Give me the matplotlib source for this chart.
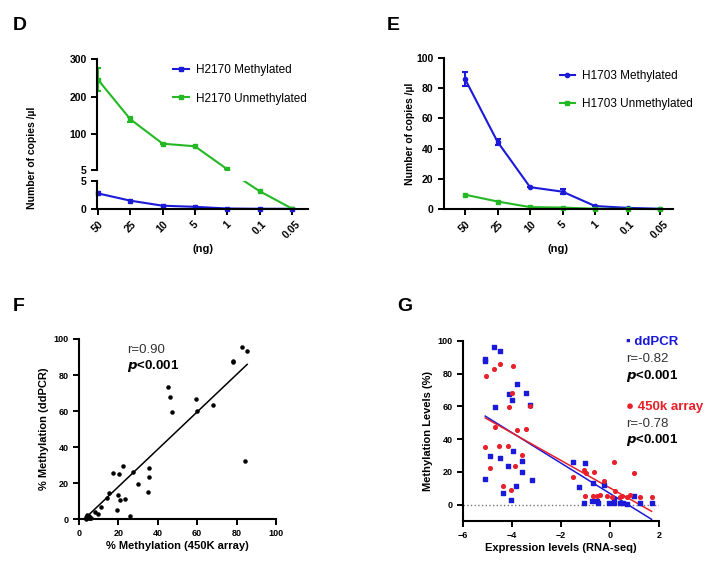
import numpy as np
import matplotlib
matplotlib.use('Agg')
import matplotlib.pyplot as plt

plt.rcParams['font.family'] = ['Liberation Sans', 'DejaVu Sans']

# ---- data ----
ng_labels = ['50', '25', '10', '5', '1', '0.1', '0.05']

d_meth = [2.8, 1.5, 0.6, 0.4, 0.1, 0.05, 0.05]
d_unmeth = [245, 140, 75, 68, 7, 3.2, 0.1]
d_unmeth_err = [30, 7, 0, 0, 0, 0, 0]

e_meth = [86, 44.5, 14.5, 11.5, 2, 0.8, 0.2]
e_meth_err = [4.5, 1.8, 0, 1.6, 0, 0, 0]
e_unmeth = [9.5, 5, 1.3, 1.0, 0.2, 0.1, 0.0]

f_x = [82.6, 85.4, 78.3, 78.3, 45.1, 46.2, 47.0, 59.5, 60.1, 68.0, 84.3,
       17.1, 22.2, 20.3, 27.2, 35.5, 35.5, 30.1, 35.0, 15.1, 14.2, 19.8,
       23.2, 20.8, 11.2, 19.3, 8.0, 9.5, 26.0,
       3.5, 4.0, 4.5, 5.0, 5.5, 4.2, 6.0, 3.8, 4.8, 5.3]
f_y = [95.4, 93.3, 87.8, 87.2, 73.2, 67.9, 59.4, 66.7, 60.2, 63.5, 32.2,
       25.7, 29.3, 24.8, 26.3, 28.5, 23.3, 19.4, 15.2, 14.6, 11.7, 13.3,
       11.1, 10.4, 6.8, 5.0, 3.9, 2.9, 1.7,
       1.0, 0.5, 1.5, 0.8, 0.3, 2.0, 0.5, 0.2, 1.2, 1.8]
f_fit = (1.039, -2.84)

g_dd_x = [-4.73, -4.49, -5.09, -5.09, -3.80, -3.44, -4.14, -4.00, -4.68, -3.28,
          -4.89, -4.50, -3.96, -3.59, -4.16, -3.59, -5.09, -3.17, -3.85, -4.38, -4.04,
          -1.50, -1.01, -1.25, -0.68, -0.23, 0.18, 0.98,
          -1.06, -0.75, -0.54, -0.48, -0.05, 0.18, 0.41, 0.54, 0.68, 1.22, 1.70]
g_dd_y = [96.2, 94.1, 88.8, 87.8, 73.8, 68.5, 67.5, 64.2, 59.6, 60.8,
          29.5, 28.7, 32.5, 26.8, 23.8, 19.7, 15.4, 15.0, 11.4, 7.3, 2.8,
          26.2, 25.2, 10.6, 13.4, 11.8, 3.7, 5.3,
          1.0, 2.0, 2.4, 1.0, 1.0, 1.0, 1.0, 1.0, 0.6, 1.0, 1.0]
g_450_x = [-5.07, -4.75, -4.49, -3.97, -4.00, -4.12, -3.28, -4.68, -3.80, -3.43,
           -5.09, -4.52, -4.15, -3.59, -4.89, -3.86, -4.38, -4.04,
           -1.50, -1.06, -0.98, -0.67, -0.23, 0.15, 0.98, 0.20,
           -1.02, -0.68, -0.54, -0.41, -0.14, 0.07, 0.41, 0.50, 0.68, 0.82, 1.22, 1.70]
g_450_y = [78.7, 83.1, 86.0, 84.8, 68.5, 59.8, 60.3, 47.2, 45.3, 46.3,
           35.2, 35.8, 35.8, 30.3, 22.1, 23.4, 11.4, 9.1,
           17.1, 20.9, 19.3, 19.9, 14.2, 26.2, 19.3, 8.5,
           5.1, 5.1, 5.5, 6.1, 5.0, 4.5, 4.5, 5.5, 4.5, 6.1, 4.8, 4.8]
g_dd_fit = (-9.29, 6.8)
g_450_fit = (-8.4, 10.2)

blue = '#1a1ad8'
green = '#24b824'
red = '#e8202a'
tick_kw = dict(labelsize=7.5, width=1.4, length=4)


def style(ax):
    for s in ['top', 'right']:
        ax.spines[s].set_visible(False)
    for s in ['left', 'bottom']:
        ax.spines[s].set_linewidth(1.5)
    ax.tick_params(**tick_kw)
    for lab in ax.get_xticklabels() + ax.get_yticklabels():
        lab.set_fontweight('bold')


fig = plt.figure(figsize=(7.16, 5.62), dpi=100)
x = np.arange(len(ng_labels))

# ---- D (broken axis) ----
axDu = fig.add_axes([0.1355, 0.6975, 0.2947, 0.1975])
axDl = fig.add_axes([0.1355, 0.628, 0.2947, 0.0498])
# upper part: only the points at or above the break
up = [i for i, v in enumerate(d_unmeth) if v >= 5]
lm, = axDu.plot(x[:0], [], color=blue, lw=1.5, marker='s', ms=2.5, label='H2170 Methylated')
lu, = axDu.plot(x[up], np.array(d_unmeth)[up], color=green, lw=1.5, marker='s', ms=2.5,
                label='H2170 Unmethylated')
axDu.errorbar(x[up], np.array(d_unmeth)[up], yerr=np.array(d_unmeth_err)[up], fmt='none',
              ecolor=green, capsize=2.5, elinewidth=1.5, capthick=1.5)
axDl.plot(x, d_meth, color=blue, lw=1.5, marker='s', ms=2.5, clip_on=False)
axDl.plot(x, d_unmeth, color=green, lw=1.5, marker='s', ms=2.5)
for ax in (axDu, axDl):
    ax.set_xlim(-0.03, 6.5)
axDu.set_ylim(5, 300)
axDu.set_yticks([5, 100, 200, 300])
axDl.set_ylim(0, 5)
axDl.set_yticks([0, 5])
axDl.set_xticks(x)
axDl.set_xticklabels(ng_labels, rotation=45)
axDl.set_xlabel('(ng)', fontsize=8, fontweight='bold', labelpad=2)
style(axDu)
style(axDl)
axDu.spines['bottom'].set_visible(False)
axDu.set_xticks([])
axDu.legend(handles=[lm, lu], loc='upper left', bbox_to_anchor=(0.227, 0.905),
            bbox_transform=fig.transFigure, frameon=False, fontsize=8.5,
            handlelength=1.3, handletextpad=0.6, labelspacing=1.4)
fig.text(0.045, 0.72, 'Number of copies /µl', rotation=90, fontsize=7.5, fontweight='bold',
         ha='center', va='center')
fig.text(0.018, 0.955, 'D', fontsize=14, fontweight='bold', va='center')

# ---- E ----
axE = fig.add_axes([0.620, 0.628, 0.320, 0.269])
em, = axE.plot(x, e_meth, color=blue, lw=1.5, marker='o', ms=3, label='H1703 Methylated', clip_on=False)
axE.errorbar(x, e_meth, yerr=e_meth_err, fmt='none', ecolor=blue, capsize=2.5,
             elinewidth=1.5, capthick=1.5, clip_on=False)
eu, = axE.plot(x, e_unmeth, color=green, lw=1.5, marker='s', ms=2.5, label='H1703 Unmethylated',
               clip_on=False)
axE.set_xlim(-0.65, 6.4)
axE.set_ylim(0, 100)
axE.set_yticks([0, 20, 40, 60, 80, 100])
axE.set_xticks(x)
axE.set_xticklabels(ng_labels, rotation=45)
axE.set_xlabel('(ng)', fontsize=8, fontweight='bold', labelpad=2)
axE.set_ylabel('Number of copies /µl', fontsize=7.5, fontweight='bold', labelpad=1)
style(axE)
axE.legend(handles=[em, eu], loc='upper left', bbox_to_anchor=(0.767, 0.895),
           bbox_transform=fig.transFigure, frameon=False, fontsize=8.5,
           handlelength=1.3, handletextpad=0.6, labelspacing=1.4)
fig.text(0.54, 0.955, 'E', fontsize=14, fontweight='bold', va='center')

# ---- F ----
axF = fig.add_axes([0.1103, 0.0765, 0.2751, 0.3203])
axF.scatter(f_x, f_y, s=5, color='black', clip_on=False, zorder=3)
fx = np.array([min(f_x), max(f_x)])
axF.plot(fx, f_fit[0] * fx + f_fit[1], color='black', lw=1.1)
axF.set_xlim(0, 100)
axF.set_ylim(0, 100)
axF.set_xticks([0, 20, 40, 60, 80, 100])
axF.set_yticks([0, 20, 40, 60, 80, 100])
axF.set_xlabel('% Methylation (450K array)', fontsize=8, fontweight='bold', labelpad=2)
axF.set_ylabel('% Methylation (ddPCR)', fontsize=8, fontweight='bold', labelpad=3)
style(axF)
axF.tick_params(labelsize=6.5)
axF.text(0.245, 0.94, 'r=0.90', transform=axF.transAxes, fontsize=9.5, color='#333333', va='center')
axF.text(0.245, 0.85, r'$\boldsymbol{p}$<0.001', transform=axF.transAxes, fontsize=9.5,
         fontweight='bold', va='center')
fig.text(0.018, 0.455, 'F', fontsize=14, fontweight='bold', va='center')

# ---- G ----
axG = fig.add_axes([0.6466, 0.0730, 0.2737, 0.3203])
axG.axhline(0, color='#777777', lw=1, ls=':')
axG.scatter(g_dd_x, g_dd_y, s=7, marker='s', color=blue, zorder=3, clip_on=False)
axG.scatter(g_450_x, g_450_y, s=7, marker='o', color=red, zorder=3, clip_on=False)
gx = np.array([-5.09, 1.7])
axG.plot(gx, g_dd_fit[0] * gx + g_dd_fit[1], color=blue, lw=1.1)
axG.plot(gx, g_450_fit[0] * gx + g_450_fit[1], color=red, lw=1.1)
axG.set_xlim(-6, 2)
axG.set_ylim(-10, 100)
axG.set_xticks([-6, -4, -2, 0, 2])
axG.set_yticks([0, 20, 40, 60, 80, 100])
axG.set_xlabel('Expression levels (RNA-seq)', fontsize=8, fontweight='bold', labelpad=2)
axG.set_ylabel('Methylation Levels (%)', fontsize=8, fontweight='bold', labelpad=3)
style(axG)
axG.tick_params(labelsize=6.5)
tx = 0.875
fig.text(tx, 0.392, '▪ ddPCR', fontsize=9.5, fontweight='bold', color=blue, va='center')
fig.text(tx, 0.361, 'r=-0.82', fontsize=9.5, color='#333333', va='center')
fig.text(tx, 0.331, r'$\boldsymbol{p}$<0.001', fontsize=9.5, fontweight='bold', va='center')
fig.text(tx, 0.275, '● 450k array', fontsize=9.5, fontweight='bold', color=red, va='center')
fig.text(tx, 0.245, 'r=-0.78', fontsize=9.5, color='#333333', va='center')
fig.text(tx, 0.217, r'$\boldsymbol{p}$<0.001', fontsize=9.5, fontweight='bold', va='center')
fig.text(0.555, 0.455, 'G', fontsize=14, fontweight='bold', va='center')

fig.savefig('out.png', dpi=100)
